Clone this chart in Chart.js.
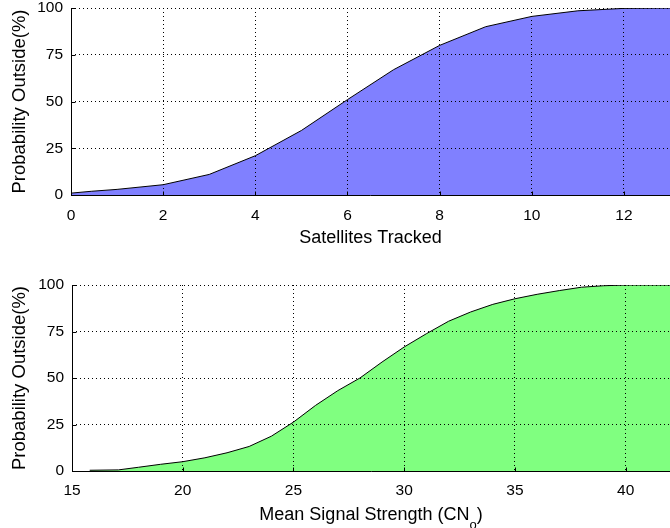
<!DOCTYPE html>
<html>
<head>
<meta charset="utf-8">
<script src="https://cdn.jsdelivr.net/npm/chart.js@4"></script>
<style>
  html,body{margin:0;padding:0;background:#fff;}
  #wrap{position:relative;width:670px;height:528px;overflow:hidden;}
  #satChart{position:absolute;left:0;top:0;}
  #sigChart{position:absolute;left:0;top:260px;}
</style>
</head>
<body>
<div id="wrap">
  <canvas id="satChart" width="670" height="260"></canvas>
  <canvas id="sigChart" width="670" height="268"></canvas>
</div>
<script>
/* ---- data ---- */
const satX = [0, 0.45, 1, 2, 3, 4, 5, 6, 7, 8, 9, 10, 11, 12, 13];
const satY = [1, 2, 3, 5.5, 11, 21, 34.5, 51, 67, 80, 90, 95.5, 98.5, 99.8, 100];

const sigX = [15.8, 17.1, 18, 19, 20, 21, 22, 23, 24, 25, 26, 27, 28, 29, 30, 31, 32, 33, 34, 35, 36, 37, 38, 39, 40, 41, 42];
const sigY = [0.4, 0.6, 2, 3.6, 5, 7.1, 9.8, 13.2, 18.7, 26.3, 35.3, 43.2, 50, 58.6, 66.7, 73.8, 80.5, 85.5, 89.6, 92.6, 95, 97, 98.8, 99.6, 100, 100, 100];

const yTicks = [0, 25, 50, 75, 100];

const FONT = 'Liberation Sans, Arial, sans-serif';

function pts(xs, ys){ return xs.map((x,i)=>({x:x, y:ys[i]})); }

// solid left/bottom axes with short inward ticks (MATLAB look)
const axesLines = {
  id: 'axesLines',
  afterDraw(chart){
    const a = chart.chartArea, c = chart.ctx;
    const L = Math.round(a.left) + 0.5, B = Math.round(a.bottom) + 0.5;
    c.save();
    c.strokeStyle = '#000'; c.lineWidth = 1;
    c.beginPath();
    c.moveTo(L, a.top); c.lineTo(L, B); c.lineTo(a.right, B);
    chart.scales.x.ticks.forEach(t=>{
      const px = Math.round(chart.scales.x.getPixelForValue(t.value)) + 0.5;
      c.moveTo(px, B); c.lineTo(px, B - 4);
    });
    chart.scales.y.ticks.forEach(t=>{
      const py = Math.round(chart.scales.y.getPixelForValue(t.value)) + 0.5;
      c.moveTo(L, py); c.lineTo(L + 4, py);
    });
    c.stroke();
    c.restore();
  }
};

// x title with a subscript, e.g. CN_o
const subTitle = {
  id: 'subTitle',
  afterDraw(chart, args, o){
    if(!o.main) return;
    const c = chart.ctx, a = chart.chartArea;
    c.save();
    c.fillStyle = '#000';
    c.textBaseline = 'alphabetic';
    c.font = '18px ' + FONT;
    const w1 = c.measureText(o.main).width, w3 = c.measureText(o.tail).width;
    c.font = '13px ' + FONT;
    const w2 = c.measureText(o.sub).width;
    let x = (a.left + a.right) / 2 - (w1 + w2 + w3) / 2;
    const y = o.y;
    c.textAlign = 'left';
    c.font = '18px ' + FONT; c.fillText(o.main, x, y); x += w1;
    c.font = '13px ' + FONT; c.fillText(o.sub, x, y + 9); x += w2;
    c.font = '18px ' + FONT; c.fillText(o.tail, x, y);
    c.restore();
  }
};

function makeChart(id, opt){
  const ctx = document.getElementById(id).getContext('2d');
  return new Chart(ctx, {
    type: 'line',
    data: {
      datasets: [{
        data: pts(opt.xs, opt.ys),
        borderColor: '#000',
        borderWidth: 1,
        backgroundColor: opt.fill,
        fill: 'origin',
        pointRadius: 0,
        tension: 0
      }]
    },
    options: {
      responsive: false,
      animation: false,
      layout: { padding: { top: opt.padTop, right: 0, left: 0, bottom: 0 } },
      plugins: { legend: { display: false }, tooltip: { enabled: false }, subTitle: opt.sub || {} },
      scales: {
        x: {
          type: 'linear',
          min: opt.xMin, max: opt.xMax,
          afterFit: s => { s.height = opt.xAxisH; s.paddingLeft = 0; s.paddingRight = 0; },
          ticks: { stepSize: opt.xStep, includeBounds: false, color: '#000', padding: opt.xTickPad,
                   font: { family: FONT, size: 15.5 } },
          grid: { color: '#000', lineWidth: 1, drawTicks: false, z: 1 },
          border: { display: false, dash: [1,3] },
          title: { display: !!opt.xTitle, text: opt.xTitle || '', color: '#000',
                   font: { family: FONT, size: 18 }, padding: { top: 0, bottom: opt.xTitlePad } }
        },
        y: {
          type: 'linear',
          min: 0, max: 100,
          afterFit: s => { s.width = opt.yAxisW; s.paddingTop = 0; s.paddingBottom = 0; },
          afterBuildTicks: s => { s.ticks = yTicks.map(v=>({value:v})); },
          ticks: { color: '#000', padding: 8, font: { family: FONT, size: 15.5 } },
          grid: { color: '#000', lineWidth: 1, drawTicks: false, z: 1 },
          border: { display: false, dash: [1,3] },
          title: { display: true, text: 'Probability Outside(%)', color: '#000',
                   font: { family: FONT, size: 18.5 }, padding: { top: 9, bottom: 0 } }
        }
      }
    },
    plugins: [axesLines, subTitle]
  });
}

makeChart('satChart', {
  xs: satX, ys: satY, fill: '#8080ff',
  xMin: 0, xMax: 13, xStep: 2, xTitle: 'Satellites Tracked',
  padTop: 8, xAxisH: 65, yAxisW: 71, xTitlePad: 11, xTickPad: 11
});

makeChart('sigChart', {
  xs: sigX, ys: sigY, fill: '#80ff80',
  xMin: 15, xMax: 42, xStep: 5, xTitle: '',
  padTop: 25, xAxisH: 57, yAxisW: 72, xTickPad: 10,
  sub: { main: 'Mean Signal Strength (CN', sub: 'o', tail: ')', y: 260 }
});
</script>
</body>
</html>
